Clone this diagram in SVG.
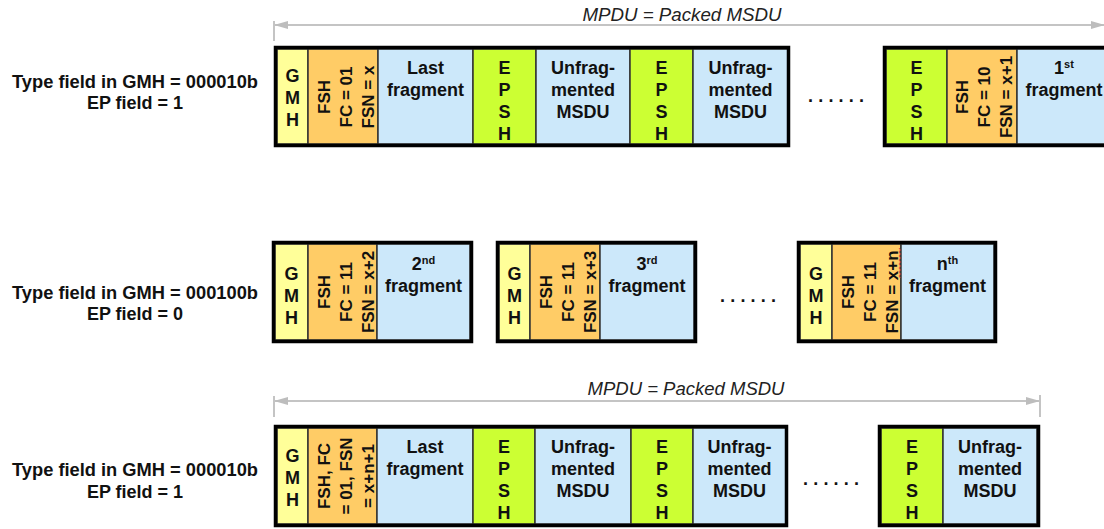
<svg xmlns="http://www.w3.org/2000/svg" width="1104" height="529" viewBox="0 0 1104 529">
<style>
text{font-family:"Liberation Sans",Arial,sans-serif;font-weight:bold;font-size:18px;fill:#111;text-anchor:middle}
.lbl{font-weight:bold}
.it{font-style:italic;font-weight:normal;font-size:18px;fill:#222}
.rot{font-size:17px}
.sup{font-size:11px}
.outer{fill:none;stroke:#000;stroke-width:3.5}
.cell{stroke:#333;stroke-width:1.5}
.g{fill:#FFFF99}
.o{fill:#FFCC66}
.b{fill:#CCE8FA}
.e{fill:#CCFF33}
.arr{stroke:#C4C4C4;stroke-width:2;fill:none}
.tick{stroke:#C4C4C4;stroke-width:2}
.dots{font-size:18px;letter-spacing:6px}
</style>
<defs>
<marker id="ah" viewBox="0 0 14 10" refX="13" refY="5" markerWidth="14" markerHeight="10" markerUnits="userSpaceOnUse" orient="auto-start-reverse">
<path d="M0,1 L14,5 L0,9 Z" fill="#BDBDBD"/>
</marker>
</defs>

<g id="labels">
<text x="135" y="88" textLength="246" lengthAdjust="spacingAndGlyphs">Type field in GMH = 000010b</text>
<text x="135" y="109">EP field = 1</text>
<text x="135" y="299" textLength="246" lengthAdjust="spacingAndGlyphs">Type field in GMH = 000100b</text>
<text x="135" y="320">EP field = 0</text>
<text x="135" y="476" textLength="246" lengthAdjust="spacingAndGlyphs">Type field in GMH = 000010b</text>
<text x="135" y="498">EP field = 1</text>
<text class="it" x="682" y="21" textLength="199" lengthAdjust="spacingAndGlyphs">MPDU = Packed MSDU</text>
<text class="it" x="686" y="395" textLength="197" lengthAdjust="spacingAndGlyphs">MPDU = Packed MSDU</text>
<text class="dots" x="839" y="102" textLength="62" lengthAdjust="spacing">......</text>
<text class="dots" x="751" y="302" textLength="62" lengthAdjust="spacing">......</text>
<text class="dots" x="834" y="485" textLength="62" lengthAdjust="spacing">......</text>
</g>

<g id="connectors">
<line class="tick" x1="274" y1="21" x2="274" y2="41"/>
<line class="arr" x1="275" y1="25" x2="1104" y2="25" marker-start="url(#ah)" marker-end="url(#ah)"/>
<line class="tick" x1="274" y1="396" x2="274" y2="417"/>
<line class="tick" x1="1040" y1="395" x2="1040" y2="417"/>
<line class="arr" x1="275" y1="401" x2="1039" y2="401" marker-start="url(#ah)" marker-end="url(#ah)"/>
</g>

<!-- Row 1, box 1 -->
<g id="r1-box1">
<rect class="cell g" x="277" y="49" width="31" height="95"/>
<rect class="cell o" x="308" y="49" width="70" height="95"/>
<rect class="cell b" x="378" y="49" width="95" height="95"/>
<rect class="cell e" x="473" y="49" width="63" height="95"/>
<rect class="cell b" x="536" y="49" width="94" height="95"/>
<rect class="cell e" x="630" y="49" width="63" height="95"/>
<rect class="cell b" x="693" y="49" width="95" height="95"/>
<rect class="outer" x="275.5" y="47.5" width="513" height="98"/>
<text x="292.5" y="82">G</text><text x="292.5" y="104">M</text><text x="292.5" y="126">H</text>
<g class="rot">
<text class="rot" transform="translate(330,97) rotate(-90)">FSH</text>
<text class="rot" transform="translate(352,97) rotate(-90)">FC = 01</text>
<text class="rot" transform="translate(374,97) rotate(-90)">FSN = x</text>
</g>
<text x="425.5" y="74">Last</text><text x="425.5" y="96">fragment</text>
<text x="504.5" y="74">E</text><text x="504.5" y="96">P</text><text x="504.5" y="118">S</text><text x="504.5" y="140">H</text>
<text x="583" y="74">Unfrag-</text><text x="583" y="96">mented</text><text x="583" y="118">MSDU</text>
<text x="661.5" y="74">E</text><text x="661.5" y="96">P</text><text x="661.5" y="118">S</text><text x="661.5" y="140">H</text>
<text x="740.5" y="74">Unfrag-</text><text x="740.5" y="96">mented</text><text x="740.5" y="118">MSDU</text>
</g>

<!-- Row 1, box 2 -->
<g id="r1-box2">
<rect class="cell e" x="886" y="49" width="61" height="95"/>
<rect class="cell o" x="947" y="49" width="70" height="95"/>
<rect class="cell b" x="1017" y="49" width="94" height="95"/>
<rect class="outer" x="884.5" y="47.5" width="230" height="98"/>
<text x="916.5" y="74">E</text><text x="916.5" y="96">P</text><text x="916.5" y="118">S</text><text x="916.5" y="140">H</text>
<text class="rot" transform="translate(968,97) rotate(-90)">FSH</text>
<text class="rot" transform="translate(990,97) rotate(-90)">FC = 10</text>
<text class="rot" transform="translate(1012,97) rotate(-90)">FSN = x+1</text>
<text x="1064" y="74">1<tspan class="sup" dy="-6">st</tspan></text>
<text x="1064" y="96">fragment</text>
</g>

<!-- Row 2, box A -->
<g id="r2-boxA">
<rect class="cell g" x="275" y="244" width="33" height="96"/>
<rect class="cell o" x="308" y="244" width="69" height="96"/>
<rect class="cell b" x="377" y="244" width="93" height="96"/>
<rect class="outer" x="273.5" y="242.5" width="198" height="99"/>
<text x="291.5" y="280">G</text><text x="291.5" y="302">M</text><text x="291.5" y="324">H</text>
<text class="rot" transform="translate(330,292) rotate(-90)">FSH</text>
<text class="rot" transform="translate(352,292) rotate(-90)">FC = 11</text>
<text class="rot" transform="translate(374,292) rotate(-90)">FSN = x+2</text>
<text x="423.5" y="270">2<tspan class="sup" dy="-6">nd</tspan></text>
<text x="423.5" y="292">fragment</text>
</g>

<!-- Row 2, box B -->
<g id="r2-boxB">
<rect class="cell g" x="499" y="244" width="31" height="96"/>
<rect class="cell o" x="530" y="244" width="70" height="96"/>
<rect class="cell b" x="600" y="244" width="94" height="96"/>
<rect class="outer" x="497.5" y="242.5" width="198" height="99"/>
<text x="514.5" y="280">G</text><text x="514.5" y="302">M</text><text x="514.5" y="324">H</text>
<text class="rot" transform="translate(552,292) rotate(-90)">FSH</text>
<text class="rot" transform="translate(574,292) rotate(-90)">FC = 11</text>
<text class="rot" transform="translate(596,292) rotate(-90)">FSN = x+3</text>
<text x="647" y="270">3<tspan class="sup" dy="-6">rd</tspan></text>
<text x="647" y="292">fragment</text>
</g>

<!-- Row 2, box C -->
<g id="r2-boxC">
<rect class="cell g" x="800" y="244" width="32" height="96"/>
<rect class="cell o" x="832" y="244" width="69" height="96"/>
<rect class="cell b" x="901" y="244" width="93" height="96"/>
<rect class="outer" x="798.5" y="242.5" width="197" height="99"/>
<text x="816" y="280">G</text><text x="816" y="302">M</text><text x="816" y="324">H</text>
<text class="rot" transform="translate(854,292) rotate(-90)">FSH</text>
<text class="rot" transform="translate(876,292) rotate(-90)">FC = 11</text>
<text class="rot" transform="translate(898,292) rotate(-90)">FSN = x+n</text>
<polyline points="899,248 900.5,250 899,252 900.5,254 899,256 900.5,258 899,260 900.5,262 899,264 900.5,266 899,268 900.5,270 899,272 900.5,274 899,276 900.5,278" fill="none" stroke="#E03030" stroke-width="0.8"/>
<text x="947.5" y="270">n<tspan class="sup" dy="-6">th</tspan></text>
<text x="947.5" y="292">fragment</text>
</g>

<!-- Row 3, box 1 -->
<g id="r3-box1">
<rect class="cell g" x="277" y="428" width="31" height="96"/>
<rect class="cell o" x="308" y="428" width="69" height="96"/>
<rect class="cell b" x="377" y="428" width="96" height="96"/>
<rect class="cell e" x="473" y="428" width="62" height="96"/>
<rect class="cell b" x="535" y="428" width="96" height="96"/>
<rect class="cell e" x="631" y="428" width="62" height="96"/>
<rect class="cell b" x="693" y="428" width="93" height="96"/>
<rect class="outer" x="275.5" y="426.5" width="511" height="99"/>
<text x="292.5" y="462">G</text><text x="292.5" y="484">M</text><text x="292.5" y="506">H</text>
<text class="rot" transform="translate(330,476) rotate(-90)">FSH, FC</text>
<text class="rot" transform="translate(352,476) rotate(-90)">= 01, FSN</text>
<text class="rot" transform="translate(374,476) rotate(-90)">= x+n+1</text>
<text x="425" y="453">Last</text><text x="425" y="475">fragment</text>
<text x="504" y="453">E</text><text x="504" y="475">P</text><text x="504" y="497">S</text><text x="504" y="519">H</text>
<text x="583" y="453">Unfrag-</text><text x="583" y="475">mented</text><text x="583" y="497">MSDU</text>
<text x="662" y="453">E</text><text x="662" y="475">P</text><text x="662" y="497">S</text><text x="662" y="519">H</text>
<text x="739.5" y="453">Unfrag-</text><text x="739.5" y="475">mented</text><text x="739.5" y="497">MSDU</text>
</g>

<!-- Row 3, box 2 -->
<g id="r3-box2">
<rect class="cell e" x="881" y="428" width="62" height="96"/>
<rect class="cell b" x="943" y="428" width="94" height="96"/>
<rect class="outer" x="879.5" y="426.5" width="159" height="99"/>
<text x="912" y="453">E</text><text x="912" y="475">P</text><text x="912" y="497">S</text><text x="912" y="519">H</text>
<text x="990" y="453">Unfrag-</text><text x="990" y="475">mented</text><text x="990" y="497">MSDU</text>
</g>
</svg>
